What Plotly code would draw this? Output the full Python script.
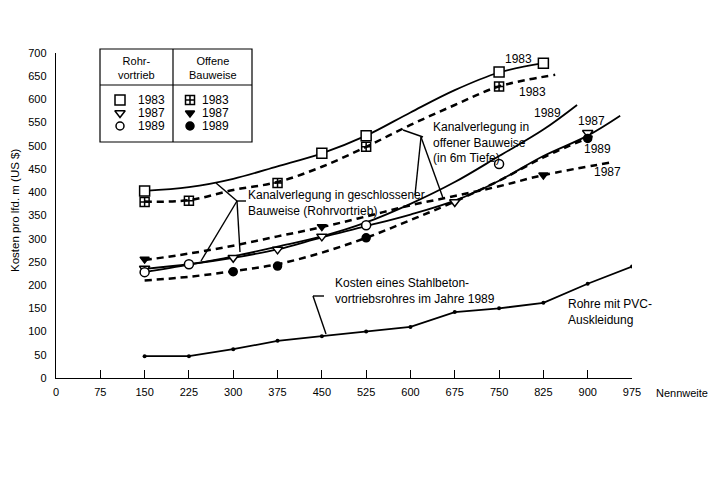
import plotly.graph_objects as go

# ---------------- data ----------------
x_ticks = [0, 75, 150, 225, 300, 375, 450, 525, 600, 675, 750, 825, 900, 975]
y_ticks = [0, 50, 100, 150, 200, 250, 300, 350, 400, 450, 500, 550, 600, 650, 700]

# Rohrvortrieb 1983 (solid line, open squares)
rohr83_x = [150, 225, 300, 375, 450, 525, 600, 675, 750, 825]
rohr83_y = [403, 411, 429, 456, 484, 522, 572, 620, 658, 678]
rohr83_mx = [150, 450, 525, 750, 825]
rohr83_my = [403, 484, 522, 659, 678]

# Offene Bauweise 1983 (dashed, crossed squares)
off83_x = [150, 225, 300, 375, 450, 525, 600, 675, 750, 845]
off83_y = [380, 383, 405, 422, 455, 498, 545, 588, 628, 653]
off83_mx = [150, 225, 375, 525, 750]
off83_my = [379, 382, 420, 498, 628]

# Rohrvortrieb 1987 (solid, open down-triangles)
rohr87_x = [150, 225, 300, 375, 450, 525, 600, 675, 750, 825, 900, 955]
rohr87_y = [235, 245, 259, 277, 303, 327, 352, 382, 425, 478, 522, 565]
rohr87_mx = [150, 300, 375, 450, 675, 900]
rohr87_my = [236, 259, 277, 305, 379, 528]

# Rohrvortrieb 1989 (solid, open circles)
rohr89_x = [150, 225, 300, 375, 450, 525, 600, 675, 750, 825, 882]
rohr89_y = [228, 244, 262, 283, 305, 335, 375, 422, 478, 535, 588]
rohr89_mx = [150, 225, 525, 750]
rohr89_my = [228, 245, 329, 461]

# Offene Bauweise 1987 (dashed, filled down-triangles)
off87_x = [150, 225, 300, 375, 450, 525, 600, 675, 750, 825, 943]
off87_y = [254, 268, 285, 305, 325, 348, 372, 392, 413, 437, 465]
off87_mx = [150, 450, 825]
off87_my = [256, 326, 437]

# Offene Bauweise 1989 (dashed, filled circles)
off89_x = [150, 225, 300, 375, 450, 525, 600, 675, 750, 825, 910]
off89_y = [210, 218, 230, 245, 270, 302, 340, 380, 425, 475, 522]
off89_mx = [300, 375, 525, 900]
off89_my = [229, 241, 302, 516]

# Kosten eines Stahlbetonvortriebsrohres 1989
stahl_x = [150, 225, 300, 375, 450, 525, 600, 675, 750, 825, 900, 975]
stahl_y = [47, 47, 62, 80, 90, 100, 110, 142, 150, 162, 203, 240]

# ---------------- layout helpers ----------------
W, H = 720, 480
OFF = 8                                # page body margin
L, R, T, B = 56, 632, 53, 378          # plot area in page pixels
FONT = "Arial, Liberation Sans, Helvetica, sans-serif"


def px(xp):
    return (xp - L) / (R - L)


def py(yp):
    return (B - yp) / (B - T)


fig = go.Figure()

SOLID = dict(color="black", width=1.8)
DASH = dict(color="black", width=2.5, dash="7px,5px")

fig.add_trace(go.Scatter(x=rohr83_x, y=rohr83_y, mode="lines", line=SOLID, line_shape="spline"))
fig.add_trace(go.Scatter(x=off83_x, y=off83_y, mode="lines", line=DASH, line_shape="spline"))
fig.add_trace(go.Scatter(x=rohr87_x, y=rohr87_y, mode="lines", line=SOLID, line_shape="spline"))
fig.add_trace(go.Scatter(x=rohr89_x, y=rohr89_y, mode="lines", line=SOLID, line_shape="spline"))
fig.add_trace(go.Scatter(x=off87_x, y=off87_y, mode="lines", line=DASH, line_shape="spline"))
fig.add_trace(go.Scatter(x=off89_x, y=off89_y, mode="lines", line=DASH, line_shape="spline"))
fig.add_trace(go.Scatter(x=stahl_x, y=stahl_y, mode="lines+markers",
                         line=dict(color="black", width=1.8),
                         marker=dict(symbol="circle", size=4, color="black")))


def mk(symbol, size, filled):
    if symbol.endswith("-open"):
        return dict(symbol=symbol, size=size, color="black", line=dict(width=1.5))
    return dict(symbol=symbol, size=size,
                color="black" if filled else "white",
                line=dict(color="black", width=1.5))


fig.add_trace(go.Scatter(x=rohr83_mx, y=rohr83_my, mode="markers", marker=mk("square", 10, False)))
fig.add_trace(go.Scatter(x=off83_mx, y=off83_my, mode="markers", marker=mk("square-cross-open", 9, False)))
fig.add_trace(go.Scatter(x=rohr87_mx, y=rohr87_my, mode="markers", marker=mk("triangle-down", 9, False)))
fig.add_trace(go.Scatter(x=rohr89_mx, y=rohr89_my, mode="markers", marker=mk("circle", 9, False)))
fig.add_trace(go.Scatter(x=off87_mx, y=off87_my, mode="markers", marker=mk("triangle-down", 8, True)))
fig.add_trace(go.Scatter(x=off89_mx, y=off89_my, mode="markers", marker=mk("circle", 8, True)))

# legend-box swatches on an overlay pixel axis
leg_left = [("square", 10, False, 100), ("triangle-down", 9, False, 113), ("circle", 8, False, 126)]
leg_right = [("square-cross-open", 9, False, 100), ("triangle-down", 8, True, 113), ("circle", 8, True, 126)]
for sym, sz, fl, yy in leg_left:
    fig.add_trace(go.Scatter(x=[120], y=[yy], xaxis="x2", yaxis="y2", mode="markers",
                             marker=mk(sym, sz, fl), cliponaxis=False))
for sym, sz, fl, yy in leg_right:
    fig.add_trace(go.Scatter(x=[190], y=[yy], xaxis="x2", yaxis="y2", mode="markers",
                             marker=mk(sym, sz, fl), cliponaxis=False))

shapes = []


def seg(x0, y0, x1, y1, w=1.4):
    shapes.append(dict(type="line", xref="paper", yref="paper",
                       x0=px(x0), y0=py(y0), x1=px(x1), y1=py(y1),
                       line=dict(color="black", width=w)))


# legend box
shapes.append(dict(type="rect", xref="paper", yref="paper",
                   x0=px(100), y0=py(142), x1=px(252), y1=py(49),
                   line=dict(color="black", width=1.2)))
seg(173, 49, 173, 142, 1.2)
seg(100, 85, 252, 85, 1.2)

# leader lines
seg(216, 183, 237, 201)
seg(237, 201, 246, 201)
seg(237, 201, 201, 261)
seg(237, 201, 240, 252)
seg(403, 130, 423, 137)
seg(421, 137, 415, 195)
seg(421, 137, 443, 198)
seg(313, 296, 324, 296)
seg(313, 296, 326, 334)

ann = []


def txt(t, x, y, anchor="left", size=12):
    ann.append(dict(text=t, xref="paper", yref="paper", x=px(x), y=py(y),
                    xanchor=anchor, yanchor="middle", showarrow=False,
                    font=dict(family=FONT, size=size, color="black"), align=anchor))


txt("Rohr-<br>vortrieb", 136, 68, "center", 11)
txt("Offene<br>Bauweise", 213, 68, "center", 11)
for yy, t in [(100, "1983"), (113, "1987"), (126, "1989")]:
    txt(t, 136, yy, "left", 12)
    txt(t, 200, yy, "left", 12)

txt("1983", 518, 59, "center")
txt("1983", 532, 92, "center")
txt("1989", 547, 113, "center")
txt("1987", 591, 121, "center")
txt("1989", 597, 149, "center")
txt("1987", 607, 172, "center")
txt("Kanalverlegung in<br>offener Bauweise<br>(in 6m Tiefe)", 431, 142, "left")
txt("Kanalverlegung in geschlossener<br>Bauweise (Rohrvortrieb)", 246, 203, "left")
txt("Kosten eines Stahlbeton-<br>vortriebsrohres im Jahre 1989", 333, 291, "left")
txt("Rohre mit PVC-<br>Auskleidung", 566, 312, "left")
txt("Nennweite", 654, 393, "left", 11)

ann.append(dict(text="Kosten pro lfd. m (US $)", xref="paper", yref="paper",
                x=px(15), y=py(210), xanchor="center", yanchor="middle",
                textangle=-90, showarrow=False,
                font=dict(family=FONT, size=11.5, color="black")))

fig.update_layout(
    width=W, height=H,
    margin=dict(l=L - OFF, r=W - (R - OFF), t=T - OFF, b=H - (B - OFF), pad=0),
    paper_bgcolor="white", plot_bgcolor="white",
    showlegend=False,
    font=dict(family=FONT, size=11, color="black"),
    shapes=shapes, annotations=ann,
    xaxis=dict(range=[0, 975], tickvals=x_ticks, ticks="inside", ticklen=8,
               tickcolor="black", tickwidth=1, showline=True, linecolor="black",
               linewidth=1.4, showgrid=False, zeroline=False,
               ticklabelstandoff=4, tickfont=dict(size=11, family=FONT)),
    yaxis=dict(range=[0, 700], tickvals=y_ticks, ticks="", showline=True,
               linecolor="black", linewidth=1.4, showgrid=False, zeroline=False,
               ticklabelstandoff=6, tickfont=dict(size=11, family=FONT)),
    xaxis2=dict(range=[L, R], overlaying="x", visible=False, fixedrange=True),
    yaxis2=dict(range=[B, T], overlaying="y", visible=False, fixedrange=True),
)

fig.write_html("out.html")
